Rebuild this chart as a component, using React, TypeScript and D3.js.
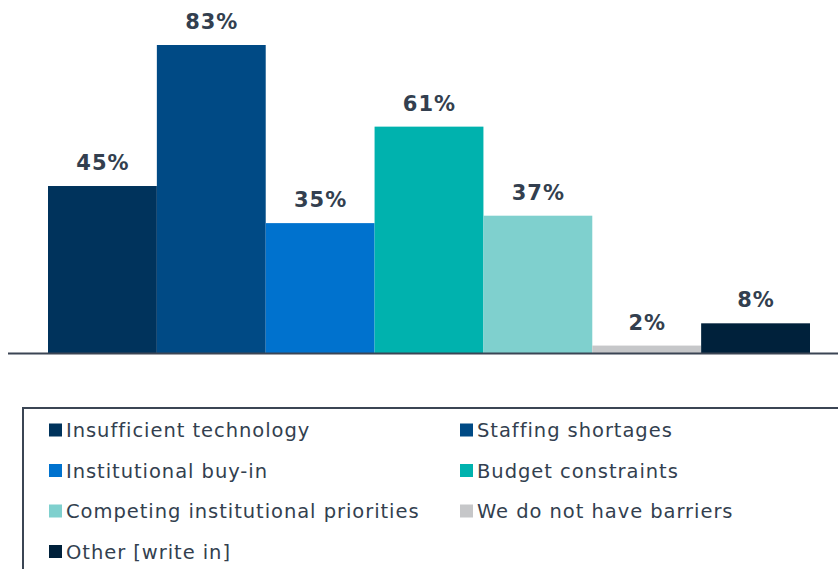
import React, { useEffect, useRef } from 'react';
import * as d3 from 'd3';

// Datos del gráfico
const categories = [
  'Insufficient technology',
  'Staffing shortages',
  'Institutional buy-in',
  'Budget constraints',
  'Competing institutional priorities',
  'We do not have barriers',
  'Other [write in]',
];
const values = [45, 83, 35, 61, 37, 2, 8];
const colors = ['#00335c', '#004a85', '#0072ce', '#00b2ae', '#7fd0ce', '#c6c7c9', '#00213b'];

const App: React.FC = () => {
  const ref = useRef<SVGSVGElement>(null);

  useEffect(() => {
    const width = 838;
    const height = 569;
    const baseline = 353;
    const font = '"DejaVu Sans", Verdana, sans-serif';
    const textColor = '#333f4f';

    const svg = d3.select(ref.current).attr('width', width).attr('height', height);
    svg.selectAll('*').remove();

    const x = d3.scaleBand<string>().domain(categories).range([48, 810]).padding(0);
    const y = d3.scaleLinear().domain([0, 83]).range([baseline, 45]);

    const data = categories.map((c, i) => ({ c, v: values[i], color: colors[i] }));

    // Barras
    svg
      .selectAll('rect.bar')
      .data(data)
      .enter()
      .append('rect')
      .attr('class', 'bar')
      .attr('x', (d) => x(d.c) || 0)
      .attr('y', (d) => y(d.v))
      .attr('width', x.bandwidth())
      .attr('height', (d) => baseline - y(d.v))
      .attr('fill', (d) => d.color);

    // Etiquetas
    svg
      .selectAll('text.lbl')
      .data(data)
      .enter()
      .append('text')
      .attr('class', 'lbl')
      .attr('x', (d) => (x(d.c) || 0) + x.bandwidth() / 2 + 0.5)
      .attr('y', (d) => y(d.v) - 16)
      .attr('text-anchor', 'middle')
      .style('font-family', font)
      .style('font-weight', 'bold')
      .style('font-size', '21px')
      .style('letter-spacing', '1px')
      .attr('fill', textColor)
      .text((d) => `${d.v}%`);

    // Eje
    svg
      .append('line')
      .attr('x1', 8)
      .attr('x2', width)
      .attr('y1', baseline + 0.5)
      .attr('y2', baseline + 0.5)
      .attr('stroke', '#3b4554')
      .attr('stroke-width', 2);

    // Leyenda
    svg
      .append('rect')
      .attr('x', 23)
      .attr('y', 408)
      .attr('width', 830)
      .attr('height', 200)
      .attr('fill', 'none')
      .attr('stroke', '#3b4554')
      .attr('stroke-width', 2);

    const items = svg
      .selectAll('g.leg')
      .data(data)
      .enter()
      .append('g')
      .attr('class', 'leg')
      .attr('transform', (d, i) => `translate(${i % 2 === 0 ? 49 : 460},${430 + Math.floor(i / 2) * 40.5})`);

    items
      .append('rect')
      .attr('x', 0)
      .attr('y', -6.5)
      .attr('width', 13)
      .attr('height', 13)
      .attr('fill', (d) => d.color);

    items
      .append('text')
      .attr('x', 17)
      .attr('y', 7)
      .style('font-family', font)
      .style('font-size', '19.5px')
      .style('letter-spacing', '0.95px')
      .attr('fill', textColor)
      .text((d) => d.c);
  }, []);

  return <svg ref={ref} style={{ position: 'absolute', left: 0, top: 0 }}></svg>;
};

export default App;
